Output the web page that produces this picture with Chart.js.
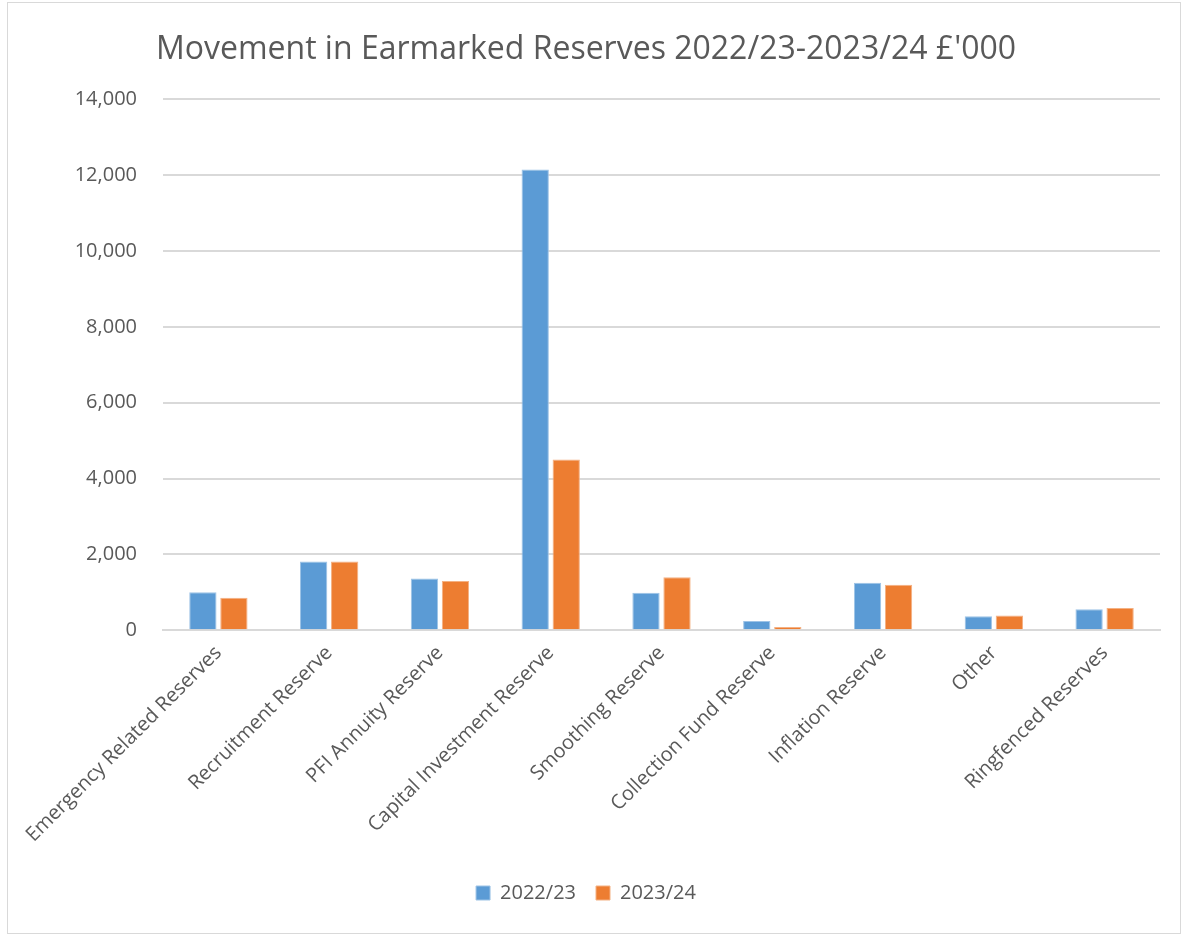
<!DOCTYPE html>
<html>
<head>
<meta charset="utf-8">
<script src="https://cdn.jsdelivr.net/npm/chart.js@4.4.1/dist/chart.umd.min.js"></script>
<style>
    body { margin: 0; background: #fff; }
    #wrap {
        position: absolute; left: 7px; top: 2px;
        width: 1172px; height: 930px;
        border: 1px solid #d9d9d9;
    }
</style>
</head>
<body>
<div id="wrap"><canvas id="chart"></canvas></div>
<script>
// Chart data
const categories = [
    'Emergency Related Reserves', 'Recruitment Reserve', 'PFI Annuity Reserve',
    'Capital Investment Reserve', 'Smoothing Reserve', 'Collection Fund Reserve',
    'Inflation Reserve', 'Other', 'Ringfenced Reserves'
];
const values2223 = [1005, 1815, 1365, 12150, 987, 246, 1252, 370, 556];
const values2324 = [855, 1815, 1296, 4505, 1400, 87, 1200, 387, 590];
const yTicks = [0, 2000, 4000, 6000, 8000, 10000, 12000, 14000];

const textColor = '#595959';
const fontFamily = "'Open Sans', 'Liberation Sans', sans-serif";

const ctx = document.getElementById('chart').getContext('2d');
new Chart(ctx, {
    type: 'bar',
    data: {
        labels: categories,
        datasets: [{
            label: '2022/23',
            data: values2223,
            backgroundColor: '#5b9bd5',
            borderColor: '#9dc3e6',
            borderWidth: 1,
            categoryPercentage: 0.56,
            barPercentage: 0.88
        }, {
            label: '2023/24',
            data: values2324,
            backgroundColor: '#ed7d31',
            borderColor: '#f4b183',
            borderWidth: 1,
            categoryPercentage: 0.56,
            barPercentage: 0.88
        }]
    },
    options: {
        responsive: true,
        maintainAspectRatio: false,
        animation: false,
        layout: { padding: { top: 28, right: 20, bottom: 20, left: 4 } },
        plugins: {
            title: {
                display: true,
                text: "Movement in Earmarked Reserves 2022/23-2023/24 £'000",
                color: textColor,
                font: { family: fontFamily, size: 32, weight: 'normal' },
                padding: { top: 0, bottom: 30 }
            },
            legend: {
                position: 'bottom',
                labels: {
                    color: textColor,
                    font: { family: fontFamily, size: 20 },
                    boxWidth: 14,
                    boxHeight: 14,
                    padding: 20
                }
            },
            tooltip: { enabled: false }
        },
        scales: {
            x: {
                afterFit: axis => { axis.height += 13; },
                grid: { display: false },
                border: { color: '#d9d9d9', width: 2 },
                ticks: {
                    color: textColor,
                    font: { family: fontFamily, size: 20 },
                    minRotation: 45,
                    maxRotation: 45,
                    autoSkip: false
                }
            },
            y: {
                min: 0,
                max: 14000,
                afterFit: axis => { axis.width = 151; },
                afterBuildTicks: axis => { axis.ticks = yTicks.map(v => ({ value: v })); },
                grid: { color: '#d9d9d9', lineWidth: 2, drawTicks: false },
                border: { display: false },
                ticks: {
                    color: textColor,
                    font: { family: fontFamily, size: 20 },
                    padding: 26,
                    callback: v => v.toLocaleString('en-GB')
                }
            }
        }
    }
});
</script>
</body>
</html>
